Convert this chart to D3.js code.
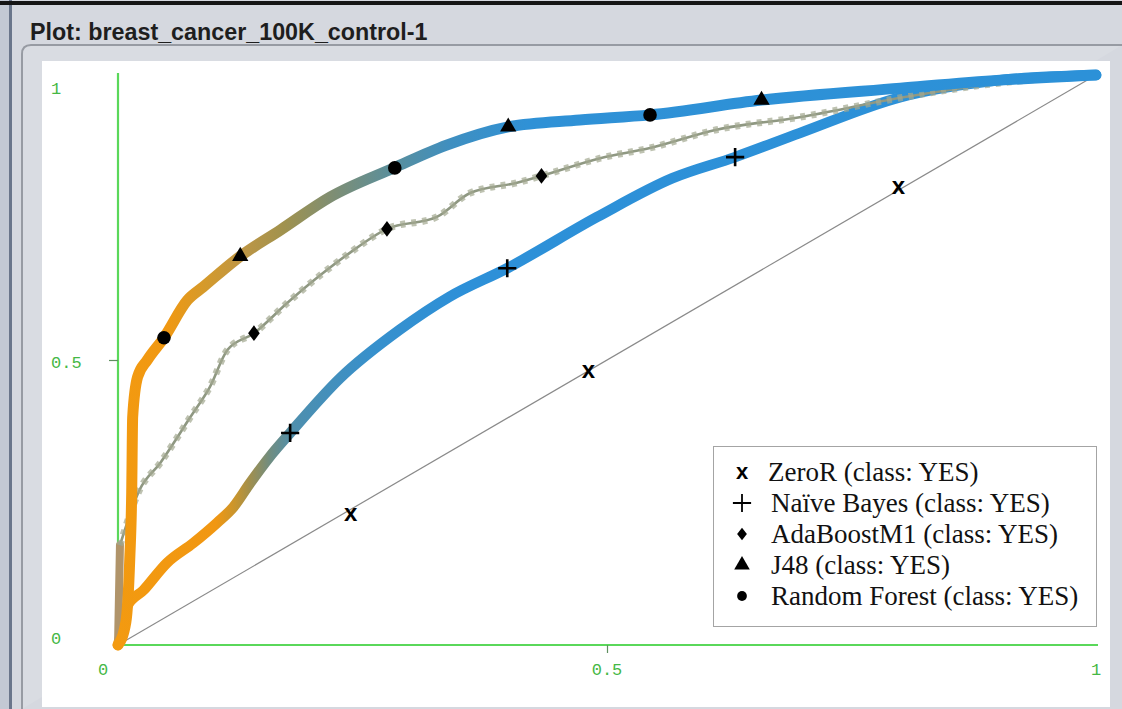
<!DOCTYPE html>
<html><head><meta charset="utf-8">
<script src="https://cdn.jsdelivr.net/npm/d3@7"></script>
<style>
html,body{margin:0;padding:0;background:#d5d8df;overflow:hidden;}
svg{display:block;}
</style></head>
<body>
<svg id="chart" width="1122" height="709"></svg>
<script>
// ---- data -------------------------------------------------------------
const titleText = "Plot: breast_cancer_100K_control-1";
const seriesNames = [
  "ZeroR (class: YES)",
  "Naïve Bayes (class: YES)",
  "AdaBoostM1 (class: YES)",
  "J48 (class: YES)",
  "Random Forest (class: YES)"
];
const tickValues = [0, 0.5, 1];
const tickLabels = ["0", "0.5", "1"];

// ROC points as [false positive rate, true positive rate]
const zeroRRoc = [[0, 0], [1, 1]];

const naiveBayesRoc = [
  [0, 0], [0.004, 0.026], [0.009, 0.067], [0.026, 0.096], [0.050, 0.144],
  [0.077, 0.179], [0.101, 0.214], [0.118, 0.242], [0.135, 0.284],
  [0.155, 0.330], [0.176, 0.372], [0.227, 0.468], [0.288, 0.553],
  [0.339, 0.611], [0.398, 0.661], [0.490, 0.751], [0.567, 0.819],
  [0.631, 0.856], [0.697, 0.898], [0.800, 0.961], [0.902, 0.991], [1, 1]
];

const adaBoostRoc = [
  [0, 0], [0.002, 0.175], [0.022, 0.272], [0.043, 0.319], [0.074, 0.400],
  [0.094, 0.453], [0.112, 0.518], [0.139, 0.547], [0.173, 0.600],
  [0.207, 0.649], [0.237, 0.688], [0.275, 0.730], [0.326, 0.751],
  [0.360, 0.793], [0.408, 0.811], [0.433, 0.823], [0.493, 0.854],
  [0.544, 0.872], [0.612, 0.904], [0.697, 0.926], [0.800, 0.960],
  [0.902, 0.986], [1, 1]
];

// J48 and Random Forest trace the same curve
const treeRoc = [
  [0, 0], [0.008, 0.040], [0.012, 0.150], [0.014, 0.267], [0.015, 0.400],
  [0.020, 0.470], [0.030, 0.500], [0.047, 0.539], [0.071, 0.605],
  [0.087, 0.628], [0.125, 0.682], [0.166, 0.728], [0.217, 0.786],
  [0.282, 0.837], [0.336, 0.877], [0.399, 0.909], [0.472, 0.921],
  [0.544, 0.930], [0.658, 0.956], [0.800, 0.977], [0.902, 0.991], [1, 1]
];

// highlighted points on each curve
const zeroRMarks = [[0.238, 0.230], [0.481, 0.481], [0.798, 0.804]];
const naiveBayesMarks = [[0.176, 0.372], [0.398, 0.661], [0.631, 0.856]];
const adaBoostMarks = [[0.139, 0.547], [0.275, 0.730], [0.433, 0.823]];
const j48Marks = [[0.125, 0.682], [0.399, 0.909], [0.658, 0.956]];
const randomForestMarks = [[0.047, 0.539], [0.283, 0.837], [0.544, 0.930]];

// ---- frame -------------------------------------------------------------
const svg = d3.select("#chart");
const W = 1122, H = 709;

svg.append("rect").attr("width", W).attr("height", H).attr("fill", "#d5d8df");
svg.append("rect").attr("x", 0).attr("y", 0).attr("width", 9).attr("height", H).attr("fill", "#c3c9d4");
svg.append("rect").attr("x", 9).attr("y", 0).attr("width", 3).attr("height", H).attr("fill", "#6a768b");
svg.append("rect").attr("x", 0).attr("y", 1).attr("width", W).attr("height", 4).attr("fill", "#151515");

svg.append("text")
  .attr("x", 30).attr("y", 40)
  .attr("font-family", "Liberation Sans, Arial, sans-serif")
  .attr("font-weight", "bold")
  .attr("font-size", 23.3)
  .attr("fill", "#1e1e1e")
  .text(titleText);

// inner panel with rounded corner
svg.append("path")
  .attr("d", "M22,709 L22,54 Q22,45 31,45 L1122,45")
  .attr("fill", "#d9dce2")
  .attr("stroke", "#979ba3")
  .attr("stroke-width", 2);

svg.append("rect")
  .attr("x", 42).attr("y", 61).attr("width", 1068).attr("height", 646)
  .attr("fill", "#ffffff");

// ---- scales ------------------------------------------------------------
const x = d3.scaleLinear().domain([0, 1]).range([118, 1096]);
const y = d3.scaleLinear().domain([0, 1]).range([645, 75]);

const line = d3.line().x(d => x(d[0])).y(d => y(d[1])).curve(d3.curveMonotoneX);
const lineLinear = d3.line().x(d => x(d[0])).y(d => y(d[1]));

// ---- axes --------------------------------------------------------------
const axisGreen = "#5ad85a";
const labelGreen = "#45b845";

const gx = svg.append("g").attr("transform", `translate(0,${y(0)})`)
  .call(d3.axisBottom(x).tickValues([0.5]).tickSize(8).tickFormat(""));
const gy = svg.append("g").attr("transform", `translate(${x(0)},0)`)
  .call(d3.axisLeft(y).tickValues([0.5]).tickSize(9).tickFormat(""));
[gx, gy].forEach(g => {
  g.select(".domain").attr("stroke", axisGreen).attr("stroke-width", 2.2);
  g.selectAll(".tick line").attr("stroke", "#5f8f5f").attr("stroke-width", 1.2);
});
gy.select(".domain").attr("d", `M0,${y(1) - 2}V${y(0)}`);
gx.select(".domain").attr("d", `M${x(0)},0H${x(1) + 2}`);

const labelFont = "Liberation Mono, DejaVu Sans Mono, monospace";
svg.append("g").selectAll("text").data(tickValues).join("text")
  .attr("x", (d, i) => i === 0 ? x(d) - 15 : x(d))
  .attr("y", y(0) + 30)
  .attr("text-anchor", "middle")
  .attr("font-family", labelFont).attr("font-size", 17)
  .attr("fill", labelGreen)
  .text((d, i) => tickLabels[i]);

svg.append("g").selectAll("text").data(tickValues).join("text")
  .attr("x", 51)
  .attr("y", d => y(d) + (d === 1 ? 19 : d === 0 ? -1 : 8))
  .attr("text-anchor", "start")
  .attr("font-family", labelFont).attr("font-size", 17)
  .attr("fill", labelGreen)
  .text((d, i) => tickLabels[i]);

// ---- colour ramps along false positive rate (threshold colouring) --------
const defs = svg.append("defs");
function ramp(id, stops) {
  const g = defs.append("linearGradient").attr("id", id)
    .attr("gradientUnits", "userSpaceOnUse")
    .attr("x1", x(0)).attr("x2", x(1)).attr("y1", 0).attr("y2", 0);
  stops.forEach(s => g.append("stop").attr("offset", s[0]).attr("stop-color", s[1]));
}
ramp("treeRamp", [
  [0, "#f39a10"], [0.05, "#f09812"], [0.09, "#d49a2c"], [0.125, "#bf9644"],
  [0.17, "#a0924e"], [0.22, "#7e8e74"], [0.28, "#5a8f9c"], [0.34, "#3f8fc0"],
  [0.42, "#2f91d6"], [1, "#2c91d8"]
]);
ramp("nbRamp", [
  [0, "#f39a10"], [0.10, "#f19712"], [0.12, "#c8952e"], [0.135, "#a08f4e"],
  [0.155, "#718d80"], [0.18, "#4e8fae"], [0.26, "#3790cc"], [0.35, "#2d90d8"],
  [1, "#2c91d8"]
]);

// ---- curves --------------------------------------------------------------
const curves = svg.append("g");

// ZeroR diagonal
curves.append("path").datum(zeroRRoc)
  .attr("d", lineLinear).attr("fill", "none")
  .attr("stroke", "#8a8a8a").attr("stroke-width", 1.2);

// Naive Bayes
curves.append("path").datum(naiveBayesRoc)
  .attr("d", line).attr("fill", "none")
  .attr("stroke", "url(#nbRamp)").attr("stroke-width", 10.5)
  .attr("stroke-linejoin", "round").attr("stroke-linecap", "round");

// AdaBoostM1: thick start, then a thin trace of small point markers
curves.append("path").datum(adaBoostRoc.slice(0, 2))
  .attr("d", lineLinear).attr("fill", "none")
  .attr("stroke", "#b0946a").attr("stroke-width", 8).attr("stroke-linecap", "round");
curves.append("path").datum(adaBoostRoc.slice(1))
  .attr("d", line).attr("fill", "none")
  .attr("stroke", "#8f9882").attr("stroke-width", 2.6);
curves.append("path").datum(adaBoostRoc.slice(1))
  .attr("d", line).attr("fill", "none")
  .attr("stroke", "#a2a890").attr("stroke-width", 7).attr("stroke-dasharray", "5 6")
  .attr("opacity", 0.7);

// J48 / Random Forest
curves.append("path").datum(treeRoc)
  .attr("d", line).attr("fill", "none")
  .attr("stroke", "url(#treeRamp)").attr("stroke-width", 11)
  .attr("stroke-linejoin", "round").attr("stroke-linecap", "round");

// ---- highlighted markers -------------------------------------------------
const marks = svg.append("g");
marks.selectAll("text.zr").data(zeroRMarks).join("text").attr("class", "zr")
  .attr("x", d => x(d[0])).attr("y", d => y(d[1]) + 7)
  .attr("text-anchor", "middle")
  .attr("font-family", "Liberation Sans, Arial, sans-serif")
  .attr("font-weight", "bold").attr("font-size", 24).attr("fill", "#000")
  .text("x");

function symbolMarks(data, type, size, stroke) {
  marks.append("g").selectAll("path").data(data).join("path")
    .attr("transform", d => `translate(${x(d[0])},${y(d[1])})`)
    .attr("d", d3.symbol().type(type).size(size))
    .attr("fill", stroke ? "none" : "#000")
    .attr("stroke", stroke ? "#000" : "none")
    .attr("stroke-width", stroke || 0);
}
symbolMarks(naiveBayesMarks, d3.symbolPlus, 110, 2.6);
// diamonds: a square turned 45 degrees and stretched vertically
marks.append("g").selectAll("path").data(adaBoostMarks).join("path")
  .attr("transform", d => `translate(${x(d[0])},${y(d[1])}) scale(1,1.35) rotate(45)`)
  .attr("d", d3.symbol().type(d3.symbolSquare).size(68))
  .attr("fill", "#000");
symbolMarks(j48Marks, d3.symbolTriangle, 115);
symbolMarks(randomForestMarks, d3.symbolCircle, 145);

// ---- legend --------------------------------------------------------------
const legend = svg.append("g");
legend.append("rect")
  .attr("x", 713.5).attr("y", 446.5).attr("width", 383).attr("height", 180)
  .attr("fill", "#fff").attr("stroke", "#a4a4a4").attr("stroke-width", 1);

const rowY = i => 472 + i * 31;
const legendSymbols = [null, d3.symbolPlus, d3.symbolSquare, d3.symbolTriangle, d3.symbolCircle];
const legendSizes = [0, 110, 48, 105, 75];
legend.selectAll("g.row").data(seriesNames).join("g").attr("class", "row")
  .each(function (name, i) {
    const g = d3.select(this);
    if (i === 0) {
      g.append("text").attr("x", 742).attr("y", rowY(i) + 7)
        .attr("text-anchor", "middle")
        .attr("font-family", "Liberation Sans, Arial, sans-serif")
        .attr("font-weight", "bold").attr("font-size", 22).text("x");
    } else {
      const stroke = i === 1;
      const tf = i === 2
        ? `translate(742,${rowY(i)}) scale(1,1.3) rotate(45)`
        : `translate(742,${rowY(i)})`;
      g.append("path")
        .attr("transform", tf)
        .attr("d", d3.symbol().type(legendSymbols[i]).size(legendSizes[i]))
        .attr("fill", stroke ? "none" : "#000")
        .attr("stroke", stroke ? "#000" : "none")
        .attr("stroke-width", stroke ? 1.8 : 0);
    }
    g.append("text")
      .attr("x", i === 0 ? 768 : 771).attr("y", rowY(i) + 9)
      .attr("font-family", "Liberation Serif, Times New Roman, serif")
      .attr("font-size", 27).attr("fill", "#111")
      .text(name);
  });
</script>
</body></html>
